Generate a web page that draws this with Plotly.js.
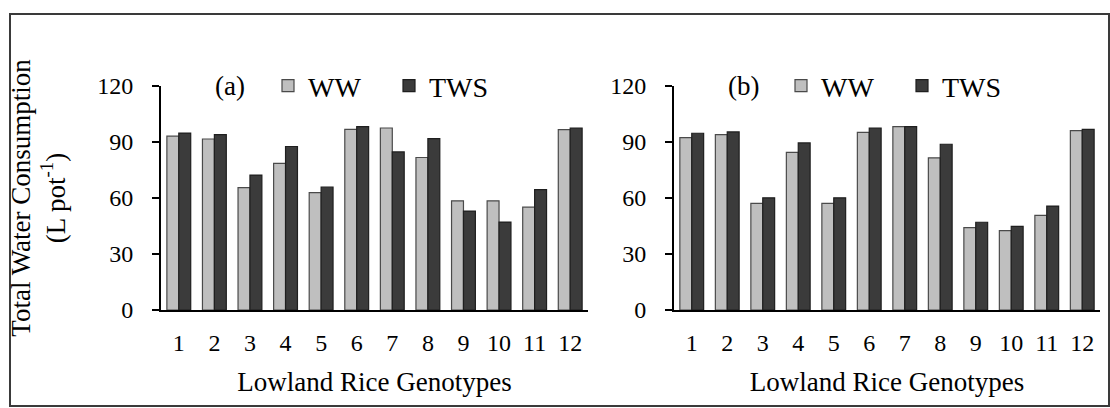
<!DOCTYPE html>
<html>
<head>
<meta charset="utf-8">
<script src="https://cdn.plot.ly/plotly-3.0.1.min.js"></script>
<style>
  html, body { margin: 0; padding: 0; background: #fff; }
  #chart { width: 1110px; height: 408px; }
</style>
</head>
<body>
<div id="chart"></div>
<script>
// Lowland rice genotypes 1–12
const genotypes = ['1','2','3','4','5','6','7','8','9','10','11','12'];

// Total water consumption (L pot^-1), panel (a)
const wwA  = [93.1, 91.6, 65.6, 78.5, 62.9, 96.8, 97.5, 81.7, 58.5, 58.5, 55.1, 96.6];
const twsA = [94.8, 93.9, 72.3, 87.6, 65.8, 98.2, 84.7, 91.8, 53.0, 47.1, 64.5, 97.5];

// Total water consumption (L pot^-1), panel (b)
const wwB  = [92.3, 93.9, 57.1, 84.4, 57.1, 95.2, 98.2, 81.5, 44.1, 42.5, 50.7, 96.1];
const twsB = [94.7, 95.4, 60.1, 89.5, 60.1, 97.5, 98.2, 88.8, 47.0, 44.8, 55.7, 96.8];

const seriesNames = ['WW', 'TWS'];
const panelLabels = ['(a)', '(b)'];

const W = 1110, H = 408;
const FONT = "'Liberation Serif', 'Times New Roman', serif";
const wwStyle  = { color: '#bfbfbf', line: { color: '#4a4a4a', width: 1.2 } };
const twsStyle = { color: '#3b3b3b', line: { color: '#1f1f1f', width: 1.2 } };

function bar(name, y, style, xa, ya, legend) {
  return {
    type: 'bar', name: name, x: genotypes, y: y,
    xaxis: xa, yaxis: ya, legend: legend,
    marker: style, hoverinfo: 'x+y+name'
  };
}

const data = [
  bar(seriesNames[0], wwA,  wwStyle,  'x',  'y',  'legend'),
  bar(seriesNames[1], twsA, twsStyle, 'x',  'y',  'legend'),
  bar(seriesNames[0], wwB,  wwStyle,  'x2', 'y2', 'legend2'),
  bar(seriesNames[1], twsB, twsStyle, 'x2', 'y2', 'legend2')
];

const px = v => v / W;
const py = v => 1 - v / H;

const xBase = {
  type: 'category', range: [-0.5, 11.5],
  showline: true, linecolor: '#000', linewidth: 2,
  ticks: '', showgrid: false, zeroline: false,
  tickfont: { family: FONT, size: 24, color: '#000' },
  ticklabelstandoff: 10,
  title: { text: 'Lowland Rice Genotypes', font: { family: FONT, size: 27, color: '#000' }, standoff: 17 }
};
const yBase = {
  range: [0, 120], dtick: 30, tick0: 0,
  showline: true, linecolor: '#000', linewidth: 2,
  ticks: 'outside', ticklen: 7, tickwidth: 2, tickcolor: '#000',
  showgrid: false, zeroline: false,
  tickfont: { family: FONT, size: 24, color: '#000' },
  ticklabelstandoff: 14,
  domain: [py(310), py(86)]
};

const legendBase = {
  orientation: 'h', xanchor: 'left', yanchor: 'middle', y: py(86),
  font: { family: FONT, size: 28, color: '#000' },
  bgcolor: 'rgba(0,0,0,0)', entrywidth: 76, itemclick: false, itemdoubleclick: false
};

const layout = {
  width: W, height: H,
  margin: { l: 0, r: 0, t: 0, b: 0 },
  paper_bgcolor: '#fff', plot_bgcolor: '#fff',
  barmode: 'group', bargap: 0.33, bargroupgap: 0,
  showlegend: true,
  xaxis: Object.assign({}, xBase, { domain: [px(161), px(588)], anchor: 'y' }),
  xaxis2: Object.assign({}, xBase, { domain: [px(674), px(1100)], anchor: 'y2' }),
  yaxis: Object.assign({}, yBase, {
    anchor: 'x',
    title: {
      text: 'Total Water Consumption<br>(L pot<sup>-1</sup>)',
      font: { family: FONT, size: 27, color: '#000' }, standoff: 24
    }
  }),
  yaxis2: Object.assign({}, yBase, { anchor: 'x2' }),
  legend: Object.assign({}, legendBase, { x: px(268) }),
  legend2: Object.assign({}, legendBase, { x: px(781) }),
  annotations: [
    { text: panelLabels[0], xref: 'paper', yref: 'paper', x: px(230), y: py(86),
      xanchor: 'center', yanchor: 'middle', showarrow: false,
      font: { family: FONT, size: 27, color: '#000' } },
    { text: panelLabels[1], xref: 'paper', yref: 'paper', x: px(743), y: py(86),
      xanchor: 'center', yanchor: 'middle', showarrow: false,
      font: { family: FONT, size: 27, color: '#000' } }
  ],
  shapes: [
    { type: 'rect', xref: 'paper', yref: 'paper',
      x0: px(10), x1: px(1109), y0: py(406), y1: py(14),
      line: { color: '#3a3a3a', width: 2 }, fillcolor: 'rgba(0,0,0,0)', layer: 'below' }
  ]
};

Plotly.newPlot('chart', data, layout, { displayModeBar: false, staticPlot: true });
</script>
</body>
</html>
